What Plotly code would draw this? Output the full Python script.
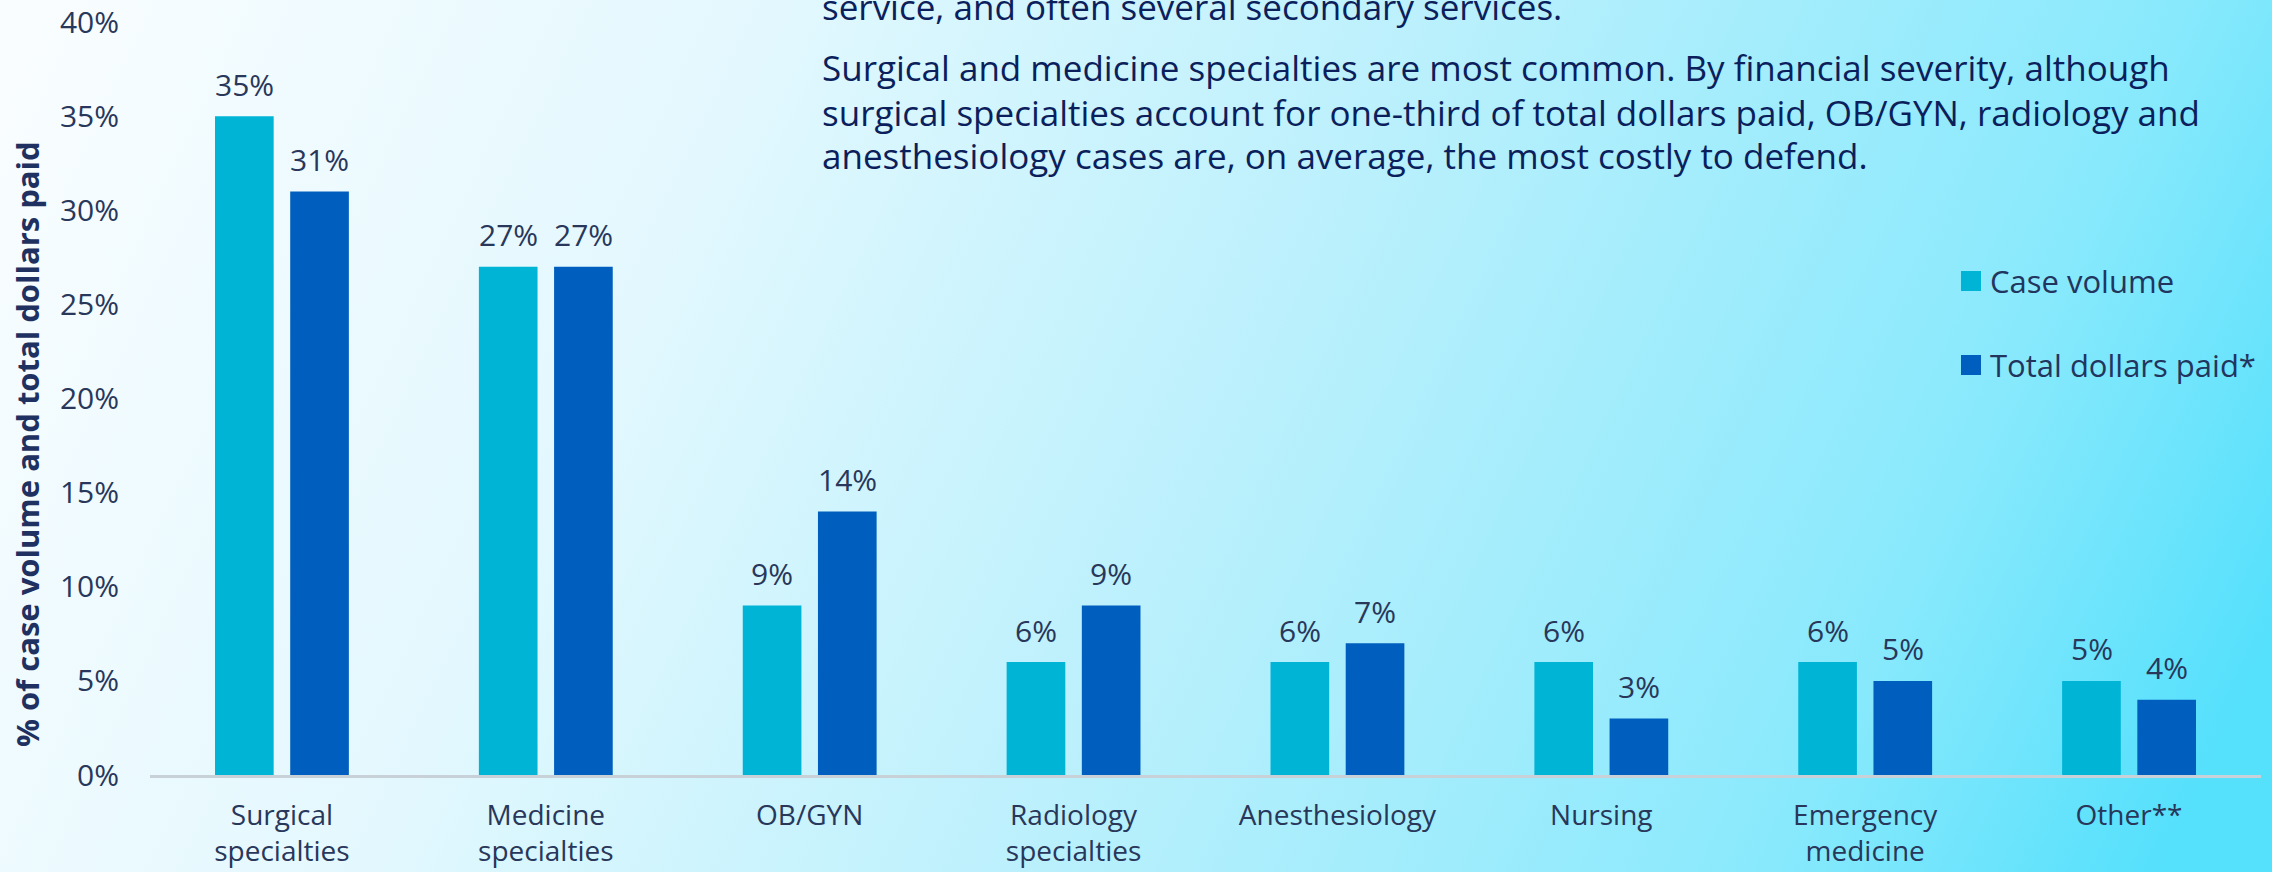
import base64
import plotly.graph_objects as go

# data
categories = ["Surgical<br>specialties", "Medicine<br>specialties", "OB/GYN",
              "Radiology<br>specialties", "Anesthesiology", "Nursing",
              "Emergency<br>medicine", "Other**"]
case_volume = [35, 27, 9, 6, 6, 6, 6, 5]
dollars_paid = [31, 27, 14, 9, 7, 3, 5, 4]
series_names = ["Case volume", "Total dollars paid*"]
y_ticks = [0, 5, 10, 15, 20, 25, 30, 35, 40]

intro_line = "service, and often several secondary services."
para_lines = [
    "Surgical and medicine specialties are most common. By financial severity, although",
    "surgical specialties account for one-third of total dollars paid, OB/GYN, radiology and",
    "anesthesiology cases are, on average, the most costly to defend.",
]

# styling
W, H = 2272, 872
ML, MR, MT, MB = 150, 11, 22, 97
PW, PH = W - ML - MR, H - MT - MB
C_CASE = "#00B4D6"
C_DOLL = "#005EBE"
TXT = "#28375A"
PARA = "#0B1F5C"
FONT = "Open Sans"

def px_x(x):
    return (x - ML) / PW

def px_y(y):
    return (H - MB - y) / PH

# background gradient as an svg image
svg = f"""<svg xmlns='http://www.w3.org/2000/svg' width='{W}' height='{H}' viewBox='0 0 {W} {H}' preserveAspectRatio='none'>
<defs><linearGradient id='g' gradientUnits='userSpaceOnUse' x1='0' y1='0' x2='2100' y2='1000'>
<stop offset='0' stop-color='#FAFDFF'/>
<stop offset='0.3' stop-color='#E3F8FE'/>
<stop offset='0.6' stop-color='#B4EFFC'/>
<stop offset='0.85' stop-color='#88E9FC'/>
<stop offset='1' stop-color='#55E0FC'/>
</linearGradient></defs>
<rect width='{W}' height='{H}' fill='url(#g)'/></svg>"""
bg_src = "data:image/svg+xml;base64," + base64.b64encode(svg.encode()).decode()

fig = go.Figure()
fig.add_trace(go.Bar(x=categories, y=case_volume, name=series_names[0],
                     marker=dict(color=C_CASE, line=dict(width=0)), showlegend=False))
fig.add_trace(go.Bar(x=categories, y=dollars_paid, name=series_names[1],
                     marker=dict(color=C_DOLL, line=dict(width=0)), showlegend=False))

annotations = []
# value labels above bars
for vals, shift in ((case_volume, -37.5), (dollars_paid, 37.5)):
    for cat, v in zip(categories, vals):
        annotations.append(dict(x=cat, y=v, xref="x", yref="y", text=f"{v}%",
                                showarrow=False, xshift=shift, yshift=32,
                                yanchor="middle",
                                font=dict(family=FONT, size=30, color=TXT)))

# y axis title
annotations.append(dict(x=px_x(27), y=px_y(444), xref="paper", yref="paper",
                        text="<b>% of case volume and total dollars paid</b>",
                        textangle=-90, showarrow=False, xanchor="center", yanchor="middle",
                        font=dict(family=FONT, size=31, color="#1F3160")))

# commentary text
annotations.append(dict(x=px_x(820), y=px_y(6), xref="paper", yref="paper", text=intro_line,
                        showarrow=False, xanchor="left", yanchor="middle",
                        font=dict(family=FONT, size=35, color=PARA)))
for i, line in enumerate(para_lines):
    annotations.append(dict(x=px_x(820), y=px_y(68 + i * 44), xref="paper", yref="paper",
                            text=line, showarrow=False, xanchor="left", yanchor="middle",
                            font=dict(family=FONT, size=35, color=PARA)))

# legend
shapes = []
for i, (name, col) in enumerate(zip(series_names, [C_CASE, C_DOLL])):
    yc = 281 + i * 84
    shapes.append(dict(type="rect", xref="paper", yref="paper",
                       x0=px_x(1961), x1=px_x(1981), y0=px_y(yc + 10), y1=px_y(yc - 10),
                       fillcolor=col, line=dict(width=0)))
    annotations.append(dict(x=px_x(1988), y=px_y(yc), xref="paper", yref="paper", text=name,
                            showarrow=False, xanchor="left", yanchor="middle",
                            font=dict(family=FONT, size=31, color="#22355E")))

fig.update_layout(
    width=W, height=H,
    margin=dict(l=ML, r=MR, t=MT, b=MB, autoexpand=False),
    barmode="group", bargap=0.43, bargroupgap=0.22,
    plot_bgcolor="rgba(0,0,0,0)", paper_bgcolor="#FAFDFF",
    font=dict(family=FONT, size=28, color=TXT),
    annotations=annotations, shapes=shapes,
    images=[dict(source=bg_src, xref="paper", yref="paper",
                 x=-ML / PW, y=1 + MT / PH, sizex=W / PW, sizey=H / PH,
                 xanchor="left", yanchor="top", sizing="stretch", layer="below")],
)
fig.update_xaxes(showline=True, linecolor="#C8D0D8", linewidth=3, showgrid=False,
                 ticks="", ticklabelstandoff=13,
                 tickfont=dict(family=FONT, size=28, color=TXT))
fig.update_yaxes(range=[0, 40], tickvals=y_ticks, ticktext=[f"{t}%" for t in y_ticks],
                 showgrid=False, zeroline=False, showline=False, ticks="",
                 ticklabelstandoff=30,
                 tickfont=dict(family=FONT, size=30, color=TXT))

# page has a default body margin, drop it so the figure fills the window
fig.write_html("out.html", config={"displayModeBar": False},
               post_script="document.body.style.margin='0';document.body.style.overflow='hidden';")
